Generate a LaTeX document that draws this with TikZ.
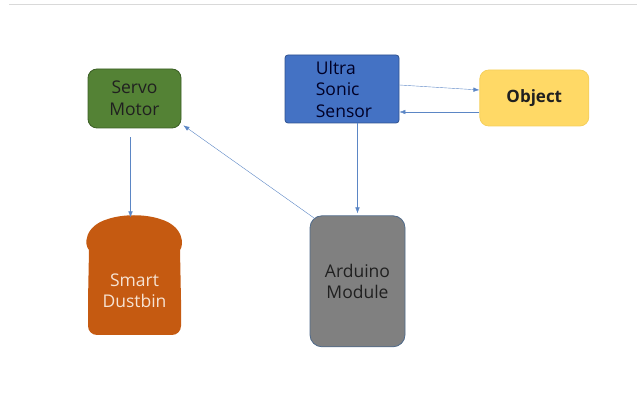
\documentclass[tikz,border=0pt]{standalone}
\usepackage{fontspec}
\setmainfont{Open Sans}
\usetikzlibrary{positioning, arrows.meta}
\definecolor{servogreen}{HTML}{548235}
\definecolor{servoedge}{HTML}{3B5E25}
\definecolor{sensorblue}{HTML}{4472C4}
\definecolor{sensoredge}{HTML}{2F528F}
\definecolor{objyellow}{HTML}{FFD966}
\definecolor{objedge}{HTML}{F5CF5C}
\definecolor{binorange}{HTML}{C55A11}
\definecolor{boardgray}{HTML}{808080}
\definecolor{boardedge}{HTML}{4F6A8A}
\definecolor{linkblue}{HTML}{5B86C5}
\definecolor{inkdark}{HTML}{202020}
\definecolor{inklight}{HTML}{F6E3D3}
\tikzset{
  block/.style={
    draw, line width=0.8pt, rounded corners=9pt, align=center,
    inner sep=0pt, text=inkdark, font=\fontsize{17.5}{21.5}\selectfont
  },
  -{Latex[length=6pt, width=4.5pt]}, node distance=1cm, line width=0.6pt
}

\begin{document}
\begin{tikzpicture}[x=1pt, y=-1pt]
    \useasboundingbox (0,0) rectangle (637,419);
    \draw[-, draw=black!15] (9,4) -- (637,4);

    % top row
    \node[block, fill=servogreen, draw=servoedge, minimum width=93pt, minimum height=59pt] (servo) at (134.5,98.5) {Servo\\Motor};
    \node[block, fill=sensorblue, draw=sensoredge, rounded corners=3pt, minimum width=114pt, minimum height=68pt, align=left, text=black!85!blue] (sensor) at (342,89) {\hspace*{4pt}Ultra\\\hspace*{4pt}Sonic\\\hspace*{4pt}Sensor};
    \node[block, fill=objyellow, draw=objedge, minimum width=109pt, minimum height=56pt, font=\fontsize{17}{21}\selectfont\bfseries, right = 80pt of sensor, yshift=-9pt] (object) {Object};

    % bottom row
    \node[block, fill=boardgray, draw=boardedge, rounded corners=12pt, minimum width=95pt, minimum height=131pt, below = 92pt of sensor, xshift=15.5pt] (arduino) {Arduino\\Module};
    \fill[binorange, rounded corners=9pt] (88,300) -- (88,335) -- (181,335) -- (181,300);
    \fill[binorange] (88,301) -- (89,250)
        .. controls (84,245) and (84,226) .. (108,219)
        .. controls (123,214) and (145,214) .. (160,219)
        .. controls (184,226) and (184,245) .. (180,250)
        -- (181,301) -- cycle;
    \node[block, draw=none, minimum width=93pt, minimum height=150pt, text=inklight, below = 87pt of servo] (dustbin) {Smart\\Dustbin};

    % links
    \draw[linkblue] ([xshift=-4pt, yshift=-9pt]servo.south) -- ([xshift=-4pt, yshift=-2pt]dustbin.north);
    \draw[linkblue] ([xshift=5pt, yshift=-3pt]arduino.north west) -- ([xshift=2pt, yshift=3pt]servo.south east);
    \draw[linkblue] (sensor.south -| arduino.north) -- ([yshift=2pt]arduino.north);
    \draw[linkblue] ([yshift=4pt]sensor.east) -- ([yshift=8pt]object.west);
    \draw[linkblue] ([yshift=-14pt]object.west) -- ([yshift=-23pt]sensor.east);
\end{tikzpicture}
\end{document}
